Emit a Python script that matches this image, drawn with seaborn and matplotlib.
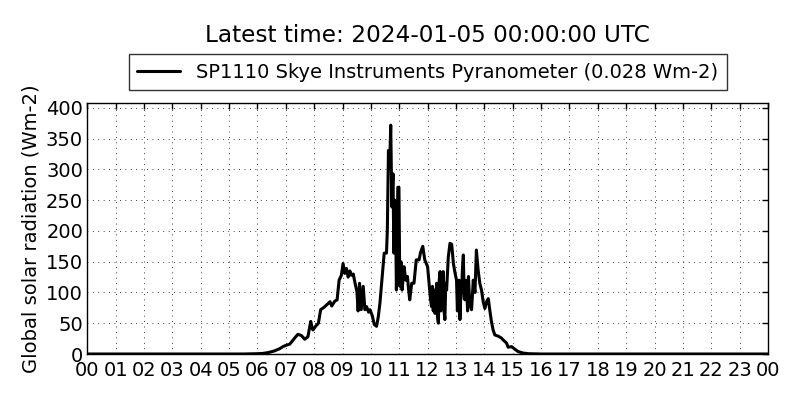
import numpy as np
import pandas as pd
import seaborn as sns
import matplotlib
matplotlib.use("Agg")
import matplotlib.pyplot as plt

hours = [0.0, 5.5, 6.0, 6.2, 6.4, 6.6, 6.8, 6.9, 7.0, 7.14, 7.26, 7.35, 7.43, 7.55, 7.67, 7.78,
         7.85, 7.88, 7.93, 7.96, 8.05, 8.15, 8.23, 8.35, 8.47, 8.56, 8.62, 8.73, 8.81, 8.88,
         8.96, 9.02, 9.08, 9.14, 9.2, 9.26, 9.31, 9.38, 9.43, 9.51, 9.55, 9.6, 9.66, 9.73,
         9.79, 9.85, 9.92, 9.97, 10.05, 10.12, 10.2, 10.26, 10.32, 10.41, 10.47, 10.55, 10.58,
         10.62, 10.66, 10.7, 10.74, 10.78, 10.81, 10.84, 10.87, 10.9, 10.95, 10.99, 11.02,
         11.06, 11.1, 11.17, 11.23, 11.29, 11.33, 11.37, 11.44, 11.52, 11.6, 11.7, 11.75,
         11.83, 11.9, 12.0, 12.06, 12.1, 12.14, 12.17, 12.2, 12.23, 12.26, 12.29, 12.32,
         12.35, 12.38, 12.41, 12.44, 12.47, 12.5, 12.53, 12.55, 12.58,
         12.61, 12.64, 12.67, 12.73, 12.79, 12.85, 12.91, 12.97, 13.02, 13.05, 13.08, 13.11,
         13.14, 13.17, 13.2, 13.23, 13.26, 13.29,
         13.32, 13.35, 13.38, 13.41, 13.44, 13.47, 13.5, 13.55, 13.61, 13.67, 13.72, 13.78,
         13.84, 13.9, 13.96,
         14.02, 14.08, 14.14, 14.19, 14.25, 14.31, 14.37, 14.49, 14.6, 14.66, 14.78, 14.84,
         14.96, 15.07, 15.19, 15.37, 15.55, 16.0, 24.0]
radiation = [0, 0, 0.5, 1, 2.5, 5, 9, 12, 14, 16, 23, 28, 32, 30, 24, 28,
             45, 53, 42, 39, 45, 50, 72, 76, 81, 85, 78, 86, 88, 120,
             128, 147, 131, 139, 125, 135, 128, 130, 118, 101, 70, 115, 72, 110,
             72, 77, 68, 72, 62, 48, 45, 60, 83, 131, 164, 164, 200,
             331, 300, 372, 239, 293, 164, 250, 234, 104, 271, 271, 110,
             150, 104, 142, 120, 126, 105, 88, 115, 115, 153, 153, 165,
             175, 153, 142, 110, 90, 77, 110, 70, 104, 66, 95, 115,
             60, 50, 120, 134, 70, 83, 125, 134, 70,
             56, 115, 104, 158, 180, 178, 147, 131, 120, 70, 93, 120,
             56, 95, 104, 140, 161, 90,
             88, 120, 104, 70, 126, 95, 80, 72, 120, 100, 169, 137,
             115, 104, 85,
             74, 85, 90, 72, 53, 39, 31, 29, 26, 23, 18, 11,
             12, 8, 4, 1.5, 0.5, 0, 0]
tick_labels = ["%02d" % (h % 24) for h in range(25)]
series_label = "SP1110 Skye Instruments Pyranometer (0.028 Wm-2)"
title = "Latest time: 2024-01-05 00:00:00 UTC"

sns.set_style("white")
plt.rcParams['font.family'] = ['DejaVu Sans']
plt.rcParams['text.color'] = 'black'
plt.rcParams['axes.labelcolor'] = 'black'
plt.rcParams['xtick.color'] = 'black'
plt.rcParams['ytick.color'] = 'black'

df = pd.DataFrame({"hour": hours, "rad": radiation})
fig = plt.figure(figsize=(8, 4), dpi=100)
ax = fig.add_axes([0.109, 0.115, 0.851, 0.6275])
sns.lineplot(data=df, x="hour", y="rad", ax=ax, color="black", linewidth=2.2,
             label=series_label)
ax.set_xlim(0, 24)
ax.set_ylim(0, 408)
ax.set_xticks(range(25))
ax.set_xticklabels(tick_labels)
ax.set_yticks(range(0, 401, 50))
ax.tick_params(labelsize=14, direction="in", top=True, right=True, length=4, width=1)
ax.tick_params(axis="x", pad=5)
ax.tick_params(axis="y", pad=3)
ax.grid(True, color="black", linestyle=(0, (1, 5.5)), linewidth=0.6)
for s in ax.spines.values():
    s.set_color("black")
    s.set_linewidth(1)
ax.set_xlabel("")
ax.set_ylabel("Global solar radiation (Wm-2)", fontsize=14, labelpad=4)
leg = ax.legend(loc="lower center", bbox_to_anchor=(0.5, 1.05), fontsize=14,
                frameon=True, fancybox=False, borderpad=0.45, handlelength=2.2,
                borderaxespad=0)
leg.get_frame().set_edgecolor("black")
leg.get_frame().set_linewidth(1)
ax.set_title(title, fontsize=16.7, pad=44)
fig.savefig("out.png", dpi=100, facecolor="white")
